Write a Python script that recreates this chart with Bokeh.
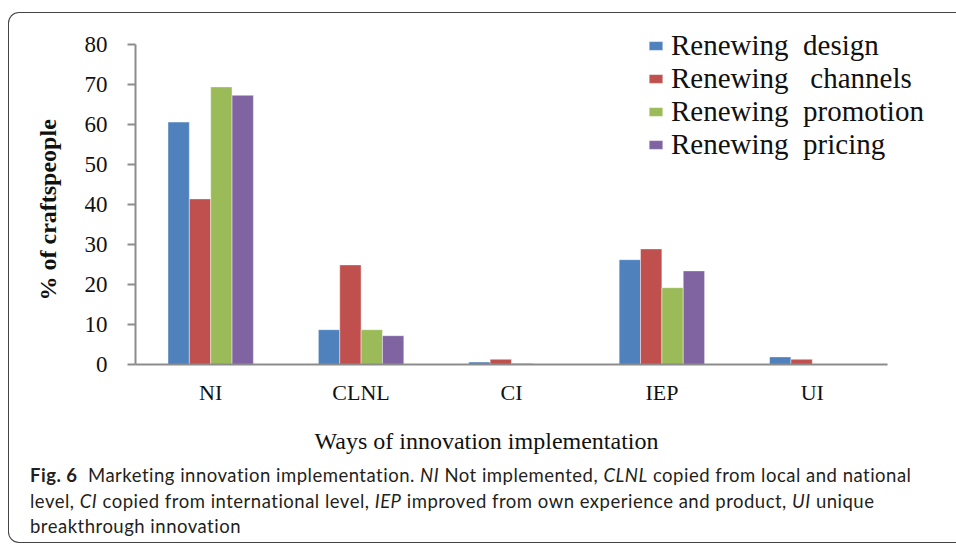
from bokeh.plotting import figure
from bokeh.models import (Range1d, Legend, LegendItem, Div, Title,
                          ColumnDataSource, FixedTicker, InlineStyleSheet)
from bokeh.layouts import column
from bokeh.transform import dodge
from bokeh.embed import file_html
from bokeh.resources import INLINE

categories = ["NI", "CLNL", "CI", "IEP", "UI"]
design = [60.6, 8.7, 0.6, 26.2, 1.9]
channels = [41.4, 24.9, 1.3, 28.9, 1.3]
promotion = [69.4, 8.7, 0.3, 19.2, 0.0]
pricing = [67.3, 7.2, 0.0, 23.4, 0.0]
series_names = ["Renewing  design", "Renewing   channels",
                "Renewing  promotion", "Renewing  pricing"]
colors = ["#4F81BD", "#C0504D", "#9BBB59", "#8064A2"]
y_ticks = [0, 10, 20, 30, 40, 50, 60, 70, 80]
y_title = "% of craftspeople"
x_title = "Ways of innovation implementation"

xpos = list(range(len(categories)))
src = ColumnDataSource(dict(x=xpos, design=design, channels=channels,
                            promotion=promotion, pricing=pricing))

p = figure(x_range=Range1d(-0.5, 4.959), y_range=Range1d(0, 86),
           width=956, height=546,
           output_backend="svg", toolbar_location=None,
           min_border_left=135, min_border_right=0,
           min_border_top=20, min_border_bottom=182)
p.outline_line_color = None
p.xgrid.visible = False
p.ygrid.visible = False
p.background_fill_color = "white"
p.border_fill_color = "white"

bw = 0.142
offsets = [-1.5 * bw, -0.5 * bw, 0.5 * bw, 1.5 * bw]
keys = ["design", "channels", "promotion", "pricing"]
items = []
for k, off, c, name in zip(keys, offsets, colors, series_names):
    r = p.vbar(x=dodge("x", off), top=k, width=bw,
               source=src, fill_color=c, line_color="white", line_width=0.6,
               line_alpha=0.7)
    items.append(LegendItem(label=name, renderers=[r]))

legend = Legend(items=items, location=(512, 203), orientation="vertical",
                label_text_font="Liberation Serif", label_text_font_size="29px",
                label_text_color="#111111",
                glyph_width=17, glyph_height=11, label_standoff=7,
                padding=0, spacing=0, label_height=32, margin=0,
                border_line_color=None, background_fill_alpha=0)
p.add_layout(legend, "center")

axis_col = "#8c8c8c"
ya = p.yaxis[0]
ya.ticker = FixedTicker(ticks=y_ticks)
ya.bounds = (0, 80)
ya.axis_line_color = axis_col
ya.axis_line_width = 2
ya.major_tick_line_color = axis_col
ya.major_tick_line_width = 2
ya.major_tick_out = 8
ya.major_tick_in = 0
ya.minor_tick_line_color = None
ya.major_label_standoff = 20
ya.major_label_text_font = "Liberation Serif"
ya.major_label_text_font_size = "23px"
ya.major_label_text_color = "#111111"

xa = p.xaxis[0]
xa.ticker = FixedTicker(ticks=xpos)
xa.major_label_overrides = {i: c for i, c in zip(xpos, categories)}
xa.bounds = (-0.5, 4.5)
xa.axis_line_color = axis_col
xa.axis_line_width = 2
xa.major_tick_line_color = None
xa.minor_tick_line_color = None
xa.major_label_standoff = 9
xa.major_label_text_font = "Liberation Serif"
xa.major_label_text_font_size = "22px"
xa.major_label_text_color = "#111111"

yt = Title(text=y_title, align="left", vertical_align="middle", offset=64,
           standoff=40, text_font="Liberation Serif", text_font_size="24px",
           text_font_style="bold", text_color="#111111")
p.add_layout(yt, "left")
xt = Title(text=x_title, align="left", vertical_align="top", offset=179,
           standoff=40, text_font="Liberation Serif", text_font_size="24px",
           text_font_style="normal", text_color="#111111")
p.add_layout(xt, "below")

caption = ('<div style="padding: 0 0 0 25px; font-family: Lato, sans-serif; '
           'font-size: 18.5px; letter-spacing: 0.5px; line-height: 25.5px; '
           'color: #231f20; white-space: nowrap;">'
           '<b>Fig. 6</b>&nbsp; Marketing innovation implementation. <i>NI</i> Not implemented, '
           '<i>CLNL</i> copied from local and national<br>'
           'level, <i>CI</i> copied from international level, <i>IEP</i> improved from own '
           'experience and product, <i>UI</i> unique<br>'
           'breakthrough innovation</div>')
cap_css = InlineStyleSheet(css=":host { position: absolute !important; left: 0; top: 458px; }")
div = Div(text=caption, width=956, height=82, stylesheets=[cap_css])

frame_css = InlineStyleSheet(css="""
:host { position: relative; }
:host::after { content: ''; position: absolute; left: 8px; top: 12px; width: 948px; height: 531px;
  border: 1px solid #444; border-right: none; border-radius: 11px 0 0 11px;
  box-sizing: border-box; pointer-events: none; z-index: 10; }
""")
layout = column(p, div, stylesheets=[frame_css])

open("out.html", "w").write(file_html(layout, INLINE))
